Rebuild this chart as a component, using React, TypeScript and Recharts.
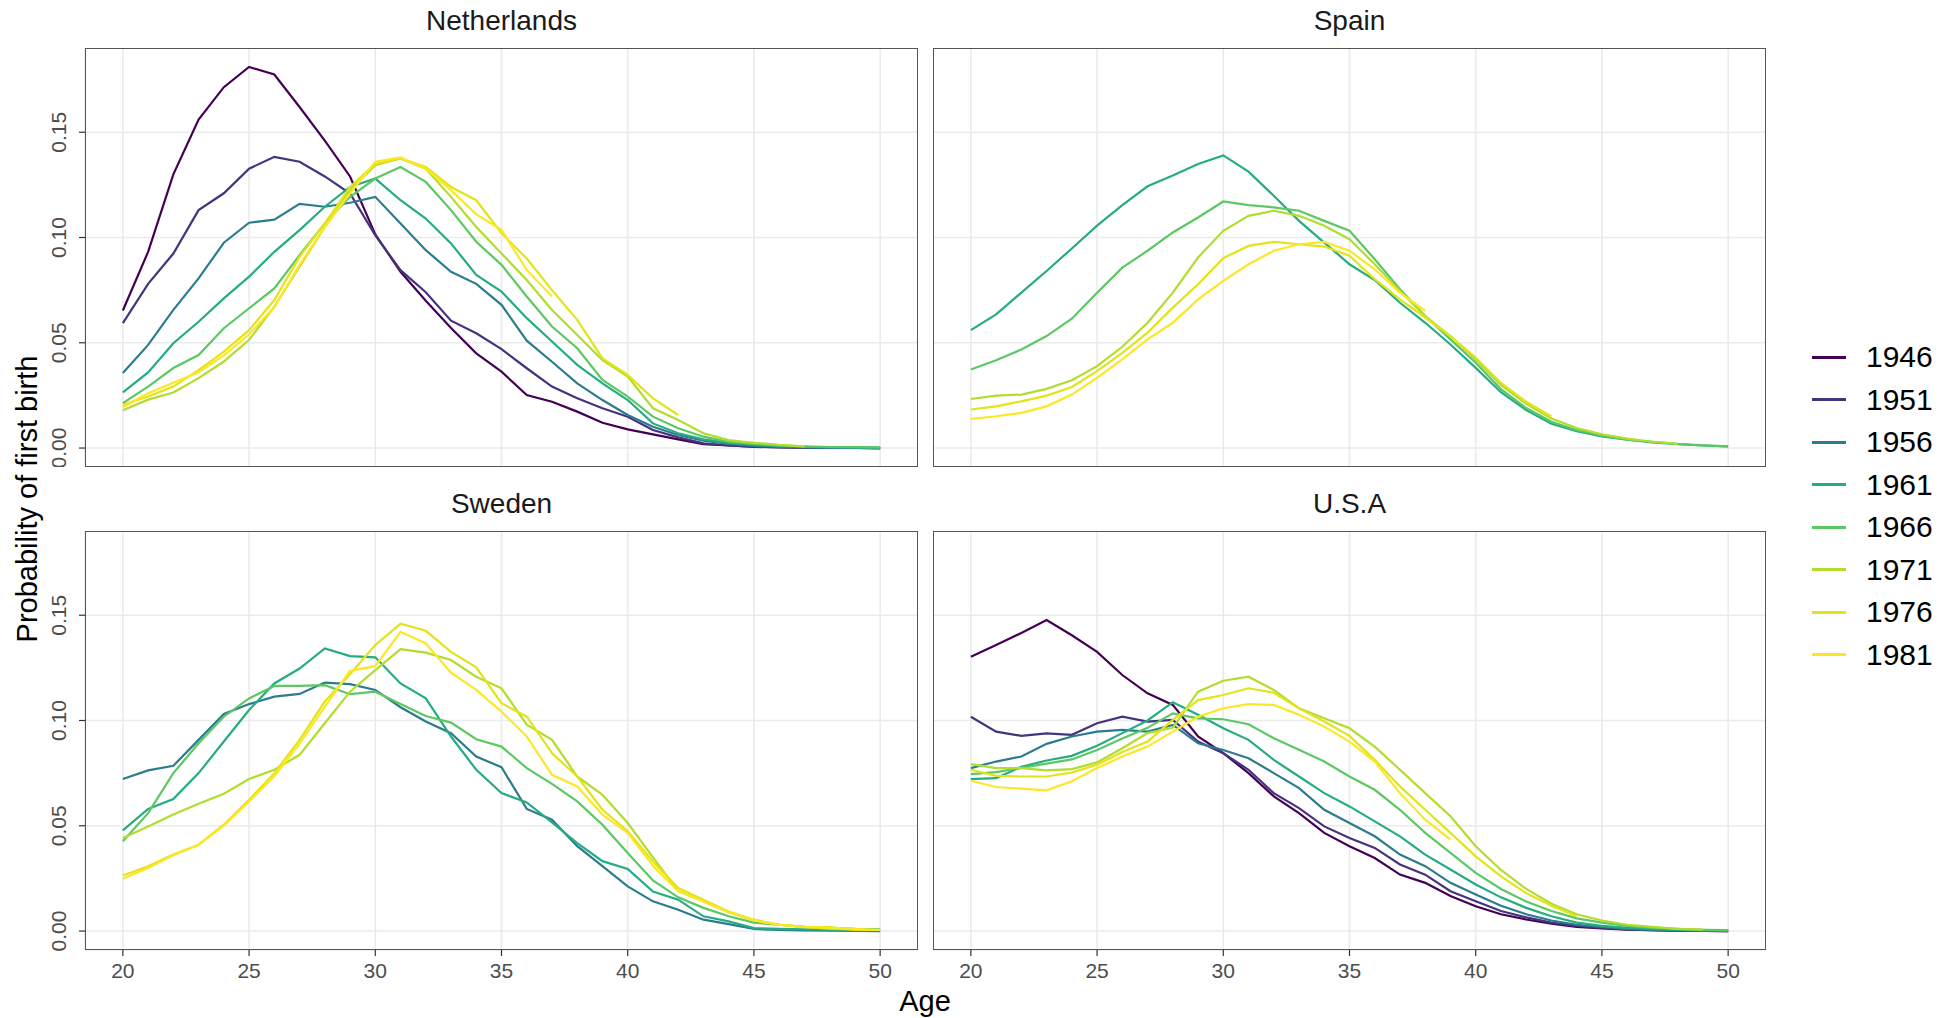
import { LineChart, Line, XAxis, YAxis, CartesianGrid } from "recharts";

// ages on the x axis, one point per year
const AGES = [
  20, 21, 22, 23, 24, 25, 26, 27, 28, 29, 30, 31, 32, 33, 34, 35, 36, 37, 38, 39,
  40, 41, 42, 43, 44, 45, 46, 47, 48, 49, 50,
];
const COHORTS = ["1946", "1951", "1956", "1961", "1966", "1971", "1976", "1981"];
const COHORT_COLORS = ["#440154", "#46337E", "#2C7C8E", "#25AC82", "#5CC863", "#B2DD2D", "#E3E418", "#FDE725"];
const X_TICKS = [20, 25, 30, 35, 40, 45, 50];
const Y_TICKS = [0, 0.05, 0.1, 0.15];

// Netherlands
const NL_1946 = [0.0653, 0.0932, 0.13, 0.156, 0.1714, 0.181, 0.1774, 0.162, 0.146, 0.129, 0.1015, 0.0837, 0.07, 0.057, 0.045, 0.0363, 0.0252, 0.022, 0.0173, 0.012, 0.0089, 0.0065, 0.0041, 0.0019, 0.0012, 0.0007, 0.0004, 0.0002, 0.0001, 0.0001, 0];
const NL_1951 = [0.0593, 0.078, 0.0924, 0.113, 0.121, 0.1327, 0.1383, 0.136, 0.129, 0.1209, 0.101, 0.0845, 0.074, 0.0605, 0.0545, 0.047, 0.0379, 0.0292, 0.0236, 0.0189, 0.0149, 0.0086, 0.0051, 0.0022, 0.0012, 0.0006, 0.0003, 0.0002, 0.0001, 0.0001, 0];
const NL_1956 = [0.0356, 0.049, 0.0656, 0.0806, 0.0975, 0.107, 0.1085, 0.116, 0.1146, 0.1165, 0.1193, 0.1067, 0.094, 0.0837, 0.078, 0.068, 0.051, 0.041, 0.0307, 0.0228, 0.0157, 0.0101, 0.0062, 0.0035, 0.002, 0.001, 0.0006, 0.0003, 0.0002, 0.0001, 0];
const NL_1961 = [0.0264, 0.0359, 0.0498, 0.06, 0.0711, 0.0814, 0.0932, 0.1035, 0.1146, 0.124, 0.128, 0.1177, 0.109, 0.0972, 0.0822, 0.0743, 0.0617, 0.0506, 0.0395, 0.0307, 0.0228, 0.0117, 0.007, 0.0041, 0.0025, 0.0015, 0.0009, 0.0005, 0.0003, 0.0002, 0.0001];
const NL_1966 = [0.0213, 0.0292, 0.038, 0.0442, 0.0569, 0.0664, 0.0758, 0.0916, 0.1067, 0.1193, 0.128, 0.1335, 0.1264, 0.113, 0.098, 0.087, 0.072, 0.0577, 0.0474, 0.0323, 0.0244, 0.0149, 0.0094, 0.0054, 0.003, 0.002, 0.0012, 0.0008, 0.0005, 0.0004, 0.0003];
const NL_1971 = [0.0179, 0.023, 0.0264, 0.0332, 0.0411, 0.0514, 0.0672, 0.0861, 0.105, 0.1225, 0.1343, 0.1375, 0.1327, 0.1193, 0.105, 0.0924, 0.0798, 0.0656, 0.0537, 0.0418, 0.0339, 0.0189, 0.0133, 0.007, 0.0038, 0.0025, 0.0015, 0.0008, null, null, null];
const NL_1976 = [0.0205, 0.0245, 0.0292, 0.037, 0.0458, 0.056, 0.0703, 0.0908, 0.1067, 0.124, 0.135, 0.1375, 0.1335, 0.124, 0.1177, 0.102, 0.09, 0.075, 0.0609, 0.0426, 0.0347, 0.0236, 0.0157, null, null, null, null, null, null, null, null];
const NL_1981 = [0.0195, 0.026, 0.031, 0.036, 0.044, 0.054, 0.067, 0.087, 0.105, 0.121, 0.136, 0.138, 0.1327, 0.1225, 0.111, 0.1036, 0.0846, 0.072, null, null, null, null, null, null, null, null, null, null, null, null, null];

// Spain
const ES_1961 = [0.056, 0.0635, 0.0738, 0.0841, 0.0948, 0.1056, 0.1154, 0.1243, 0.1294, 0.1349, 0.139, 0.1313, 0.1198, 0.1079, 0.0976, 0.0873, 0.0798, 0.069, 0.0595, 0.0492, 0.0381, 0.0265, 0.018, 0.0115, 0.008, 0.0055, 0.004, 0.0027, 0.0018, 0.0012, 0.0008];
const ES_1966 = [0.0373, 0.0417, 0.0468, 0.0532, 0.0614, 0.0738, 0.0857, 0.0937, 0.1024, 0.1095, 0.1171, 0.1154, 0.1143, 0.1127, 0.1079, 0.1032, 0.0897, 0.0754, 0.0627, 0.0516, 0.0405, 0.028, 0.019, 0.0125, 0.0085, 0.006, 0.004, 0.003, 0.002, 0.0013, 0.0008];
const ES_1971 = [0.0233, 0.0249, 0.0254, 0.0281, 0.0322, 0.0389, 0.0481, 0.0595, 0.0738, 0.0905, 0.1032, 0.1103, 0.1127, 0.1103, 0.1056, 0.0992, 0.0873, 0.0746, 0.0627, 0.0532, 0.0421, 0.03, 0.021, 0.014, 0.0095, 0.0065, 0.0045, 0.003, 0.002, null, null];
const ES_1976 = [0.0183, 0.0198, 0.0222, 0.0249, 0.029, 0.0365, 0.0452, 0.0548, 0.0667, 0.0778, 0.0902, 0.096, 0.0979, 0.0968, 0.0957, 0.0913, 0.0802, 0.0706, 0.062, 0.053, 0.043, 0.031, 0.022, 0.015, null, null, null, null, null, null, null];
const ES_1981 = [0.0138, 0.0151, 0.0167, 0.0198, 0.0254, 0.0333, 0.0421, 0.0516, 0.0595, 0.0706, 0.0794, 0.0873, 0.0937, 0.0968, 0.0979, 0.0937, 0.0849, 0.0738, 0.0651, null, null, null, null, null, null, null, null, null, null, null, null];

// Sweden
const SE_1956 = [0.0722, 0.0763, 0.0785, 0.0908, 0.1031, 0.1078, 0.1113, 0.1126, 0.118, 0.1173, 0.1145, 0.1063, 0.0995, 0.094, 0.0829, 0.0778, 0.058, 0.0529, 0.0403, 0.0308, 0.0212, 0.0141, 0.0101, 0.0054, 0.0033, 0.001, 0.0005, 0.0003, 0.0002, 0.0001, 0];
const SE_1961 = [0.0478, 0.058, 0.0627, 0.075, 0.09, 0.105, 0.1176, 0.1247, 0.1342, 0.1306, 0.13, 0.1176, 0.1105, 0.0924, 0.0766, 0.0655, 0.0611, 0.0516, 0.0418, 0.0332, 0.0295, 0.0188, 0.0149, 0.007, 0.0046, 0.0014, 0.001, 0.0008, 0.0006, 0.0004, 0.0003];
const SE_1966 = [0.0426, 0.056, 0.075, 0.0892, 0.1018, 0.1105, 0.1164, 0.1164, 0.1168, 0.1125, 0.1137, 0.1078, 0.1021, 0.099, 0.0911, 0.0876, 0.0774, 0.0699, 0.0616, 0.0505, 0.0371, 0.024, 0.016, 0.011, 0.007, 0.004, 0.003, 0.002, 0.0015, 0.001, 0.0008];
const SE_1971 = [0.0442, 0.0497, 0.0553, 0.0605, 0.0652, 0.0722, 0.0766, 0.0837, 0.0987, 0.1137, 0.1239, 0.1339, 0.1322, 0.1287, 0.1208, 0.1153, 0.098, 0.0908, 0.0734, 0.0647, 0.0513, 0.035, 0.019, 0.014, 0.009, 0.005, 0.003, 0.002, 0.001, 0.0008, 0.0005];
const SE_1976 = [0.0264, 0.0308, 0.0363, 0.041, 0.0505, 0.0624, 0.075, 0.0908, 0.109, 0.122, 0.1358, 0.146, 0.1426, 0.1326, 0.1252, 0.1082, 0.1018, 0.0845, 0.0734, 0.0576, 0.0474, 0.033, 0.0204, 0.0149, 0.0093, 0.0054, 0.003, 0.0019, 0.0019, 0.0006, 0.0005];
const SE_1981 = [0.0248, 0.03, 0.036, 0.041, 0.05, 0.0615, 0.0735, 0.089, 0.1066, 0.1236, 0.1258, 0.1421, 0.1366, 0.1227, 0.1145, 0.1042, 0.0924, 0.0742, 0.0687, 0.0553, 0.0466, 0.031, 0.019, 0.014, 0.009, 0.005, 0.003, 0.002, 0.0015, 0.001, 0.0005];

// U.S.A
const US_1946 = [0.1303, 0.1358, 0.1416, 0.1477, 0.1405, 0.1326, 0.1216, 0.1129, 0.1074, 0.0924, 0.0845, 0.075, 0.064, 0.056, 0.0466, 0.0403, 0.0347, 0.0268, 0.0229, 0.0166, 0.0118, 0.008, 0.0055, 0.0035, 0.002, 0.0012, 0.0007, 0.0004, 0.0002, 0.0001, 0];
const US_1951 = [0.1018, 0.0947, 0.0927, 0.0939, 0.0932, 0.0987, 0.1018, 0.0995, 0.1003, 0.09, 0.0845, 0.0766, 0.0655, 0.0584, 0.0497, 0.0442, 0.0395, 0.0316, 0.0268, 0.0189, 0.0142, 0.0095, 0.0065, 0.004, 0.0025, 0.0015, 0.0008, 0.0004, 0.0002, 0.0001, 0];
const US_1956 = [0.0774, 0.0805, 0.0829, 0.0889, 0.0924, 0.0947, 0.0955, 0.0947, 0.0979, 0.0892, 0.086, 0.0821, 0.075, 0.0679, 0.0576, 0.0513, 0.045, 0.0363, 0.0308, 0.0229, 0.0174, 0.012, 0.008, 0.005, 0.003, 0.002, 0.001, 0.0006, 0.0003, 0.0002, 0.0001];
const US_1961 = [0.0722, 0.0726, 0.078, 0.081, 0.0832, 0.088, 0.094, 0.1, 0.1087, 0.1027, 0.0963, 0.0908, 0.0813, 0.0734, 0.0655, 0.0592, 0.0521, 0.045, 0.0363, 0.0292, 0.0221, 0.016, 0.011, 0.007, 0.004, 0.0025, 0.0015, 0.001, 0.0006, 0.0004, 0.0002];
const US_1966 = [0.0745, 0.0755, 0.0775, 0.0795, 0.0815, 0.086, 0.0915, 0.0965, 0.1034, 0.101, 0.1006, 0.0982, 0.0916, 0.0861, 0.0805, 0.0734, 0.0671, 0.0576, 0.0466, 0.0371, 0.0276, 0.02, 0.014, 0.0095, 0.006, 0.004, 0.0025, 0.0015, 0.001, 0.0006, 0.0004];
const US_1971 = [0.0793, 0.0774, 0.0774, 0.0763, 0.0769, 0.0801, 0.0868, 0.094, 0.0965, 0.1137, 0.1189, 0.1208, 0.1145, 0.1058, 0.1011, 0.0963, 0.0876, 0.0766, 0.0655, 0.0545, 0.0403, 0.029, 0.02, 0.013, 0.008, 0.005, 0.003, 0.002, 0.001, 0.0007, null];
const US_1976 = [0.0766, 0.0737, 0.0734, 0.0734, 0.0753, 0.079, 0.085, 0.09, 0.1003, 0.1097, 0.1121, 0.1153, 0.1132, 0.1058, 0.0995, 0.0927, 0.0813, 0.0687, 0.0576, 0.0466, 0.0355, 0.026, 0.018, 0.012, 0.007, null, null, null, null, null, null];
const US_1981 = [0.0714, 0.0684, 0.0676, 0.0668, 0.0711, 0.0774, 0.0829, 0.0876, 0.0947, 0.1018, 0.1058, 0.1078, 0.1074, 0.1027, 0.0971, 0.09, 0.0805, 0.0655, 0.0529, 0.0434, null, null, null, null, null, null, null, null, null, null, null];

type Series = Array<number | null>;

function buildRows(byCohort: Record<string, Series>) {
  return AGES.map((age, i) => {
    const row: Record<string, number | null> = { age };
    Object.keys(byCohort).forEach((c) => {
      row[c] = byCohort[c][i];
    });
    return row;
  });
}

const PANELS = [
  {
    title: "Netherlands",
    left: 85, top: 48, showX: false, showY: true,
    series: { "1946": NL_1946, "1951": NL_1951, "1956": NL_1956, "1961": NL_1961, "1966": NL_1966, "1971": NL_1971, "1976": NL_1976, "1981": NL_1981 },
  },
  {
    title: "Spain",
    left: 933, top: 48, showX: false, showY: false,
    series: { "1961": ES_1961, "1966": ES_1966, "1971": ES_1971, "1976": ES_1976, "1981": ES_1981 },
  },
  {
    title: "Sweden",
    left: 85, top: 531, showX: true, showY: true,
    series: { "1956": SE_1956, "1961": SE_1961, "1966": SE_1966, "1971": SE_1971, "1976": SE_1976, "1981": SE_1981 },
  },
  {
    title: "U.S.A",
    left: 933, top: 531, showX: true, showY: false,
    series: { "1946": US_1946, "1951": US_1951, "1956": US_1956, "1961": US_1961, "1966": US_1966, "1971": US_1971, "1976": US_1976, "1981": US_1981 },
  },
];

const PANEL_W = 833;
const PANEL_H = 419;
const Y_AXIS_W = 50;
const X_AXIS_H = 44;
const TICK_COLOR = "#4D4D4D";
const TICK_FONT = 21;

function RotatedTick(props: any) {
  const { x, y, payload } = props;
  return (
    <text
      transform={`translate(${x - 11},${y}) rotate(-90)`}
      textAnchor="middle"
      fontSize={TICK_FONT}
      fill={TICK_COLOR}
    >
      {Number(payload.value).toFixed(2)}
    </text>
  );
}

function Panel({ panel }: { panel: (typeof PANELS)[number] }) {
  const rows = buildRows(panel.series);
  const yW = panel.showY ? Y_AXIS_W : 0;
  const xH = panel.showX ? X_AXIS_H : 0;
  return (
    <>
      <div
        style={{
          position: "absolute",
          left: panel.left + PANEL_W / 2,
          top: panel.top - 27,
          transform: "translate(-50%, -50%)",
          fontSize: 28,
          lineHeight: 1,
          color: "#1A1A1A",
          whiteSpace: "nowrap",
        }}
      >
        {panel.title}
      </div>
      <div style={{ position: "absolute", left: panel.left - yW, top: panel.top }}>
        <LineChart
          width={PANEL_W + yW}
          height={PANEL_H + xH}
          data={rows}
          margin={{ top: 0, right: 0, bottom: 0, left: 0 }}
        >
          <CartesianGrid stroke="#EBEBEB" strokeWidth={1.6} />
          <XAxis
            dataKey="age"
            type="number"
            domain={[18.5, 51.5]}
            ticks={X_TICKS}
            interval={0}
            hide={!panel.showX}
            height={X_AXIS_H}
            axisLine={false}
            tickLine={{ stroke: "#333333", strokeWidth: 1.2 }}
            tickSize={6}
            tickMargin={7}
            tick={{ fontSize: TICK_FONT, fill: TICK_COLOR }}
            allowDataOverflow
          />
          <YAxis
            type="number"
            domain={[-0.009, 0.19]}
            ticks={Y_TICKS}
            interval={0}
            hide={!panel.showY}
            width={Y_AXIS_W}
            axisLine={false}
            tickLine={{ stroke: "#333333", strokeWidth: 1.2 }}
            tickSize={6}
            tick={<RotatedTick />}
            allowDataOverflow
          />
          {COHORTS.filter((c) => c in panel.series).map((c) => (
            <Line
              key={c}
              type="linear"
              dataKey={c}
              stroke={COHORT_COLORS[COHORTS.indexOf(c)]}
              strokeWidth={2.2}
              dot={false}
              activeDot={false}
              isAnimationActive={false}
            />
          ))}
        </LineChart>
      </div>
      <div
        style={{
          position: "absolute",
          left: panel.left,
          top: panel.top,
          width: PANEL_W,
          height: PANEL_H,
          boxSizing: "border-box",
          border: "1.5px solid #555555",
          pointerEvents: "none",
        }}
      />
    </>
  );
}

export default function App() {
  return (
    <div
      style={{
        position: "absolute",
        left: 0,
        top: 0,
        width: 1951,
        height: 1018,
        overflow: "hidden",
        background: "#FFFFFF",
        fontFamily: "'Liberation Sans', Arial, sans-serif",
      }}
    >
      {PANELS.map((p) => (
        <Panel key={p.title} panel={p} />
      ))}

      <div
        style={{
          position: "absolute",
          left: 27,
          top: 499,
          transform: "translate(-50%, -50%) rotate(-90deg)",
          fontSize: 29,
          lineHeight: 1,
          whiteSpace: "nowrap",
          color: "#000",
        }}
      >
        Probability of first birth
      </div>
      <div
        style={{
          position: "absolute",
          left: 925,
          top: 1001,
          transform: "translate(-50%, -50%)",
          fontSize: 29,
          lineHeight: 1,
          color: "#000",
        }}
      >
        Age
      </div>

      {COHORTS.map((c, i) => (
        <div
          key={c}
          style={{
            position: "absolute",
            left: 1812,
            top: 357 + i * 42.5,
            transform: "translateY(-50%)",
            display: "flex",
            alignItems: "center",
          }}
        >
          <div style={{ width: 34, height: 3, background: COHORT_COLORS[i] }} />
          <div style={{ marginLeft: 20, fontSize: 30, lineHeight: 1, color: "#000" }}>{c}</div>
        </div>
      ))}
    </div>
  );
}
